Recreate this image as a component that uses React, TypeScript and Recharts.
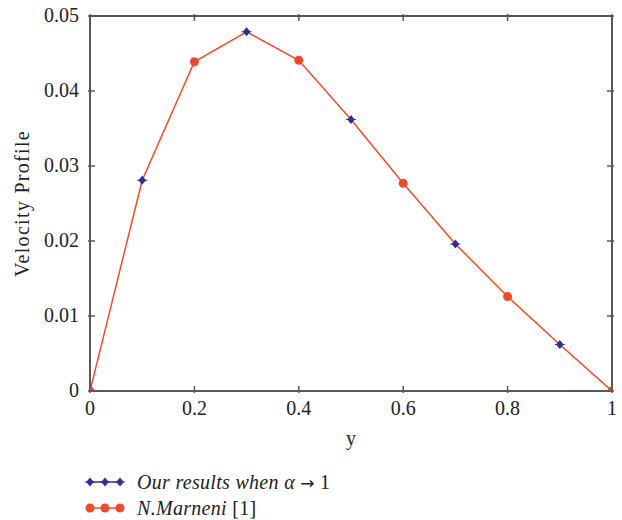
import React from 'react';
import { LineChart, Line, XAxis, YAxis } from 'recharts';

// y positions across the channel and the velocity profile at each one
const yPositions = [0, 0.1, 0.2, 0.3, 0.4, 0.5, 0.6, 0.7, 0.8, 0.9, 1];
const ourResults = [0, 0.0281, 0.0439, 0.0479, 0.0441, 0.0362, 0.0277, 0.0196, 0.0126, 0.0062, 0];
const marneniResults = [0, 0.0281, 0.0439, 0.0479, 0.0441, 0.0362, 0.0277, 0.0196, 0.0126, 0.0062, 0];

const xTicks = [0, 0.2, 0.4, 0.6, 0.8, 1];
const yTicks = [0, 0.01, 0.02, 0.03, 0.04, 0.05];

const BLUE = '#2E3192';
const RED = '#F04A2A';
const AXIS = '#585858';
const FONT = '"Liberation Serif", "Times New Roman", serif';
const TICK_LEN = 7;

const chartData = yPositions.map((y, i) => ({
  y,
  ours: ourResults[i],
  marneni: marneniResults[i]
}));

const BottomTick = (props: any) => {
  const { x, y, payload } = props;
  return (
    <g>
      <line x1={x} y1={y} x2={x} y2={y - TICK_LEN} stroke={AXIS} strokeWidth={1.5} />
      <text x={x} y={y + 22} textAnchor="middle" fill="#222" fontSize={20} fontFamily={FONT}>
        {payload.value}
      </text>
    </g>
  );
};

const LeftTick = (props: any) => {
  const { x, y, payload } = props;
  return (
    <g>
      <line x1={x} y1={y} x2={x + TICK_LEN} y2={y} stroke={AXIS} strokeWidth={1.5} />
      <text x={x - 9} y={y + 6} textAnchor="end" fill="#222" fontSize={20} fontFamily={FONT}>
        {payload.value}
      </text>
    </g>
  );
};

const TopTick = (props: any) => {
  const { x, y } = props;
  return <line x1={x} y1={y} x2={x} y2={y + TICK_LEN} stroke={AXIS} strokeWidth={1.5} />;
};

const RightTick = (props: any) => {
  const { x, y } = props;
  return <line x1={x} y1={y} x2={x - TICK_LEN} y2={y} stroke={AXIS} strokeWidth={1.5} />;
};

const Diamond = ({ cx, cy }: { cx: number; cy: number }) => (
  <g>
    <path d={`M${cx},${cy - 4.5} L${cx + 3.8},${cy} L${cx},${cy + 4.5} L${cx - 3.8},${cy} Z`} fill={BLUE} />
    <line x1={cx - 5} y1={cy} x2={cx + 5} y2={cy} stroke={BLUE} strokeWidth={1} />
  </g>
);

// markers sit on alternating points: circles on even indices, diamonds on odd
const redDot = (props: any) => {
  const { cx, cy, index } = props;
  if (index % 2 !== 0) return <g key={`r-${index}`} />;
  return <circle key={`r-${index}`} cx={cx} cy={cy} r={4.5} fill={RED} />;
};

const blueDot = (props: any) => {
  const { cx, cy, index } = props;
  if (index % 2 === 0) return <g key={`b-${index}`} />;
  return (
    <g key={`b-${index}`}>
      <Diamond cx={cx} cy={cy} />
    </g>
  );
};

const LegendRow = ({ kind, children }: { kind: 'blue' | 'red'; children: React.ReactNode }) => (
  <div style={{ display: 'flex', alignItems: 'center', height: 26 }}>
    <svg width={42} height={14} style={{ marginRight: 10 }}>
      <line x1={5} y1={7} x2={35} y2={7} stroke={kind === 'blue' ? BLUE : RED} strokeWidth={1.5} />
      {[5, 20, 35].map(cx =>
        kind === 'blue' ? (
          <Diamond key={cx} cx={cx} cy={7} />
        ) : (
          <circle key={cx} cx={cx} cy={7} r={4.5} fill={RED} />
        )
      )}
    </svg>
    <span style={{ fontFamily: FONT, fontSize: 20, color: '#222', letterSpacing: 0.3 }}>{children}</span>
  </div>
);

export default function App() {
  return (
    <div style={{ position: 'absolute', left: 0, top: 0, width: 622, height: 520, background: '#fff' }}>
      <LineChart
        width={622}
        height={460}
        data={chartData}
        margin={{ top: 15, right: 9, left: 0, bottom: 0 }}
      >
        <XAxis
          dataKey="y"
          type="number"
          domain={[0, 1]}
          ticks={xTicks}
          height={69}
          allowDataOverflow
          tickSize={0}
          tickLine={false}
          tick={<BottomTick />}
          axisLine={{ stroke: AXIS, strokeWidth: 2 }}
          label={{ value: 'y', position: 'insideBottom', offset: 15, fontSize: 20, fontFamily: FONT, fill: '#222' }}
        />
        <XAxis
          xAxisId="top"
          orientation="top"
          dataKey="y"
          type="number"
          domain={[0, 1]}
          ticks={xTicks}
          height={1}
          allowDataOverflow
          tickSize={0}
          tickLine={false}
          tick={<TopTick />}
          axisLine={{ stroke: AXIS, strokeWidth: 2 }}
        />
        <YAxis
          type="number"
          domain={[0, 0.05]}
          ticks={yTicks}
          width={90}
          allowDataOverflow
          tickSize={0}
          tickLine={false}
          tick={<LeftTick />}
          axisLine={{ stroke: AXIS, strokeWidth: 2 }}
          label={{
            value: 'Velocity Profile',
            angle: -90,
            position: 'insideLeft',
            offset: 22,
            style: { textAnchor: 'middle', letterSpacing: 1.3 },
            fontSize: 20,
            fontFamily: FONT,
            fill: '#222'
          }}
        />
        <YAxis
          yAxisId="right"
          orientation="right"
          type="number"
          domain={[0, 0.05]}
          ticks={yTicks}
          width={1}
          allowDataOverflow
          tickSize={0}
          tickLine={false}
          tick={<RightTick />}
          axisLine={{ stroke: AXIS, strokeWidth: 2 }}
        />
        <Line dataKey="marneni" stroke={RED} strokeWidth={1.5} dot={redDot} isAnimationActive={false} />
        <Line
          dataKey="ours"
          xAxisId="top"
          yAxisId="right"
          stroke="none"
          dot={blueDot}
          legendType="none"
          isAnimationActive={false}
        />
      </LineChart>
      <div style={{ position: 'absolute', left: 85, top: 469 }}>
        <LegendRow kind="blue">
          <i>Our results when α</i> <span style={{ fontFamily: '"DejaVu Sans"', fontSize: 17 }}>→</span> 1
        </LegendRow>
        <LegendRow kind="red">
          <i>N.Marneni</i> [1]
        </LegendRow>
      </div>
    </div>
  );
}
